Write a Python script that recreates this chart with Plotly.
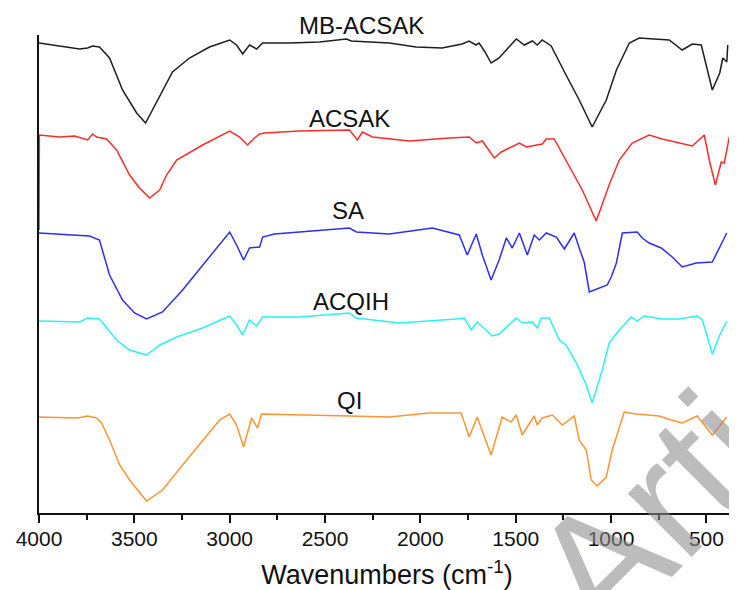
import plotly.graph_objects as go

# ---- data (wavenumber in cm-1, transmittance in arbitrary offset units) ----
mb_wn = [4000, 3892, 3787, 3745, 3719, 3683, 3630, 3562, 3488, 3441, 3352, 3300, 3211, 3106, 3000,
         2964, 2932, 2896, 2859, 2827, 2686, 2529, 2388, 2362, 2163, 2022, 1886, 1781, 1745, 1708,
         1692, 1661, 1629, 1587, 1497, 1455, 1413, 1387, 1361, 1314, 1236, 1167, 1099, 1025, 972,
         904, 852, 695, 627, 574, 527, 469, 430, 414, 393, 388]
mb_t = [470, 467, 464, 465, 467, 466, 455, 423, 400, 390, 423, 441, 455, 466, 473,
        468, 459, 468, 464, 470, 470, 471, 474, 472, 470, 466, 465, 469, 472, 468,
        470, 461, 450, 455, 474, 468, 472, 468, 473, 467, 438, 413, 386, 413, 443,
        470, 475, 473, 463, 469, 468, 423, 440, 455, 451, 468]

acsak_wn = [4000, 3998, 3892, 3813, 3745, 3719, 3698, 3646, 3593, 3525, 3473, 3420, 3367, 3331, 3278,
            3142, 3000, 2948, 2906, 2870, 2843, 2817, 2634, 2372, 2330, 2304, 2251, 2057, 1848, 1743,
            1707, 1675, 1612, 1576, 1481, 1445, 1361, 1340, 1298, 1236, 1151, 1078, 1010, 957, 889,
            800, 732, 574, 537, 511, 485, 453, 422, 406, 380]
acsak_t = [283, 378, 376, 377, 373, 379, 376, 374, 363, 338, 325, 315, 323, 338, 353,
           368, 382, 376, 368, 375, 379, 380, 382, 383, 373, 381, 376, 372, 375, 376,
           370, 372, 355, 361, 370, 366, 369, 374, 374, 353, 323, 292, 328, 353, 370,
           378, 374, 367, 373, 378, 353, 328, 351, 350, 376]

sa_wn = [4000, 3892, 3735, 3683, 3630, 3562, 3499, 3436, 3352, 3247, 3142, 3037, 3000, 2964, 2927,
         2896, 2843, 2827, 2765, 2372, 2336, 2163, 1937, 1796, 1754, 1707, 1675, 1629, 1587, 1549,
         1518, 1481, 1439, 1403, 1376, 1340, 1287, 1245, 1193, 1167, 1141, 1114, 1062, 1020, 999,
         972, 941, 863, 836, 800, 737, 679, 627, 553, 469, 417, 393]
sa_t = [280, 279, 277, 273, 238, 213, 200, 194, 201, 223, 248, 273, 281, 268, 253,
        265, 266, 276, 279, 285, 281, 279, 285, 278, 258, 279, 258, 233, 253, 275,
        265, 280, 258, 278, 273, 280, 276, 264, 280, 265, 251, 221, 225, 228, 236,
        250, 280, 281, 275, 270, 265, 256, 246, 250, 251, 270, 280]

acqih_wn = [4000, 3787, 3745, 3683, 3593, 3525, 3436, 3367, 3278, 3142, 3000, 2964, 2932, 2896, 2859,
            2827, 2634, 2372, 2336, 2111, 1812, 1770, 1733, 1702, 1623, 1587, 1497, 1466, 1413, 1387,
            1366, 1324, 1271, 1236, 1182, 1130, 1099, 1046, 1010, 957, 894, 863, 826, 732, 642,
            548, 521, 469, 430, 393]
acqih_t = [192, 191, 195, 194, 173, 163, 158, 168, 176, 185, 197, 188, 178, 193, 187,
           196, 196, 200, 195, 190, 194, 195, 183, 191, 177, 179, 195, 190, 191, 185,
           195, 195, 173, 168, 150, 128, 110, 143, 170, 183, 196, 192, 197, 194, 194,
           197, 193, 159, 178, 192]

qi_wn = [4000, 3798, 3745, 3698, 3672, 3630, 3577, 3525, 3436, 3352, 3247, 3142, 3053, 3000, 2964,
         2927, 2885, 2854, 2833, 2372, 2163, 1954, 1786, 1744, 1702, 1629, 1571, 1524, 1497, 1466,
         1403, 1387, 1361, 1308, 1256, 1193, 1167, 1130, 1104, 1073, 1025, 994, 931, 868, 747,
         684, 627, 548, 469, 393]
qi_t = [96, 95, 97, 95, 90, 73, 48, 33, 12, 23, 48, 73, 93, 99, 88,
        66, 95, 85, 99, 97, 96, 100, 100, 76, 96, 58, 96, 91, 98, 78,
        97, 88, 95, 98, 88, 97, 73, 63, 33, 27, 36, 63, 101, 99, 97,
        93, 90, 97, 78, 96]

series_names = ["MB-ACSAK", "ACSAK", "SA", "ACQIH", "QI"]
series_wn = [mb_wn, acsak_wn, sa_wn, acqih_wn, qi_wn]
series_t = [mb_t, acsak_t, sa_t, acqih_t, qi_t]
series_colors = ["#1e1e1e", "#ff2a2a", "#2e2ef2", "#2af2f2", "#ff9433"]

# label anchors (wavenumber, transmittance units)
label_wn = [2309, 2372, 2382, 2362, 2372]
label_t = [488, 395, 303, 212, 113]

x_ticks = [4000, 3500, 3000, 2500, 2000, 1500, 1000, 500]
y_range = [0, 478]

fig = go.Figure()
for name, wn, t, c in zip(series_names, series_wn, series_t, series_colors):
    fig.add_trace(go.Scatter(x=wn, y=t, mode="lines", name=name,
                             line=dict(color=c, width=1.5)))

for name, lx, ly in zip(series_names, label_wn, label_t):
    fig.add_annotation(x=lx, xref="x", y=(ly - y_range[0]) / (y_range[1] - y_range[0]), yref="paper",
                       text=name, showarrow=False,
                       font=dict(family="Liberation Sans", size=24, color="#111111"),
                       xanchor="center", yanchor="middle")

# watermark
fig.add_annotation(xref="paper", yref="paper", x=0.99, y=0.16, text="Article",
                   showarrow=False, textangle=-45, xanchor="center", yanchor="middle",
                   font=dict(family="Liberation Sans", size=170, color="rgba(140,140,140,0.58)"))

# the page body adds an 8 px margin, so the figure is sized to fit the 737x590 window
fig.update_layout(
    width=729, height=582,
    margin=dict(l=31, r=2, t=27, b=77),
    paper_bgcolor="white", plot_bgcolor="white",
    showlegend=False,
    xaxis=dict(range=[4000, 350], tickvals=x_ticks, ticks="outside", ticklen=8, tickwidth=1.5,
               tickcolor="#111111", showline=True, linecolor="#111111", linewidth=2,
               showgrid=False, zeroline=False, automargin=False,
               minor=dict(dtick=250, ticks="outside", ticklen=5, tickwidth=1.5, tickcolor="#111111"),
               tickfont=dict(family="Liberation Sans", size=21, color="#111111"),
               ticklabelstandoff=-2,
               title=dict(text="Wavenumbers (cm<sup>-1</sup>)", standoff=16,
                          font=dict(family="Liberation Sans", size=27, color="#111111"))),
    yaxis=dict(range=y_range, showticklabels=False, ticks="", showline=True, automargin=False,
               linecolor="#111111", linewidth=2, showgrid=False, zeroline=False),
)

fig.write_html("out.html")
